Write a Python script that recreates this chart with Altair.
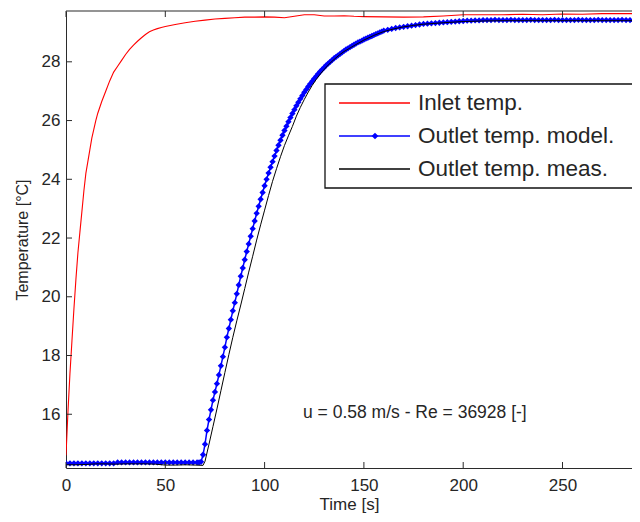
import altair as alt
import pandas as pd

# ---------------- data ----------------
inlet_t = [0,1,2,3,4,5,6,7,8,9,10,11,12,13,14,15,16,18,20,22,24,26,28,30,32,34,36,38,40,42,44,46,48,50,
           55,60,65,70,75,80,85,90,95,100,105,110,115,120,125,130,135,140,145,150,
           160,170,180,190,200,210,220,230,240,250,260,270,280,290]
inlet_T = [14.60,16.10,17.40,18.50,19.60,20.60,21.50,22.20,22.90,23.60,24.20,24.60,25.00,25.40,25.70,26.00,26.25,
           26.65,27.00,27.35,27.65,27.85,28.05,28.25,28.42,28.57,28.70,28.82,28.93,29.02,29.08,29.13,29.17,29.20,
           29.27,29.33,29.38,29.42,29.46,29.48,29.50,29.52,29.52,29.53,29.52,29.50,29.55,29.60,29.60,29.56,29.56,29.57,29.55,29.54,
           29.53,29.52,29.53,29.56,29.60,29.60,29.60,29.62,29.60,29.63,29.62,29.64,29.64,29.64]

model_t = list(range(0, 67, 2)) + list(range(67, 161)) + list(range(162, 289, 2))
model_T = ([14.33] * 13 + [14.36] * 21 +
           [14.36,14.38,14.62,14.98,15.45,15.82,16.15,16.48,16.76,17.04,17.34,17.65,17.96,18.28,18.62,18.92,
            19.22,19.52,19.80,20.10,20.40,20.70,20.98,21.26,21.54,21.80,22.06,22.32,22.58,22.84,23.08,23.32,
            23.55,23.78,24.00,24.21,24.41,24.60,24.79,24.98,25.16,25.33,25.50,25.66,25.81,25.96,26.10,26.24,
            26.37,26.50,26.62,26.74,26.85,26.96,27.06,27.16,27.25,27.34,27.43,27.51,27.59,27.67,27.74,27.81,
            27.88,27.94,28.00,28.06,28.12,28.17,28.22,28.27,28.32,28.37,28.42,28.46,28.50,28.54,28.58,28.62,
            28.66,28.69,28.72,28.76,28.79,28.82,28.85,28.88,28.91,28.94,28.97,29.00,29.03,29.06] +
           [29.09,29.12,29.15,29.17,29.19,29.21,29.23,29.25,29.27,29.29,29.30,29.31,29.32,29.33,29.34,29.35,
            29.36,29.37,29.38,29.39,29.40,29.40,29.41,29.41,29.42] +
           [29.42,29.42,29.43,29.42,29.42,29.42,29.43,29.42,29.42,29.42,29.42,29.43,29.42,29.42,29.42,29.42,
            29.42,29.43,29.42,29.42,29.42,29.42,29.42,29.43,29.42,29.42,29.42,29.42,29.43,29.42,29.42,29.42,
            29.42,29.42,29.43,29.42,29.42,29.42,29.42])

meas_t = [0,5,10,15,20,25,30,35,40,45,50,55,60,65,69,70,
          72,74,76,78,80,82,84,86,88,90,92,94,96,98,100,102,104,106,108,110,112,114,116,118,120,
          122,124,126,128,130,132,134,136,138,140,145,150,155,160,165,170,175,180,190,200,210,220,240,260,290]
meas_T = [14.28,14.28,14.29,14.31,14.31,14.30,14.31,14.31,14.31,14.30,14.27,14.27,14.28,14.27,14.26,14.40,
          14.98,15.58,16.18,16.80,17.42,18.03,18.62,19.18,19.72,20.28,20.84,21.38,21.93,22.45,22.95,23.45,
          23.93,24.36,24.77,25.15,25.48,25.80,26.15,26.45,26.72,26.97,27.20,27.40,27.58,27.74,27.89,28.02,
          28.14,28.25,28.35,28.55,28.74,28.90,29.03,29.12,29.19,29.24,29.28,29.33,29.37,29.39,29.40,29.40,
          29.40,29.40]

assert len(inlet_t) == len(inlet_T)
assert len(model_t) == len(model_T), (len(model_t), len(model_T))
assert len(meas_t) == len(meas_T)

x_ticks = [0, 50, 100, 150, 200, 250]
y_ticks = [16, 18, 20, 22, 24, 26, 28]
legend_labels = ["Inlet temp.", "Outlet temp. model.", "Outlet temp. meas."]
legend_colors = ["#ff0000", "#0000ff", "#000000"]
annotation = "u = 0.58 m/s - Re = 36928 [-]"

W, H = 566, 457
X_DOMAIN = [0, W / 1.986]
Y_DOMAIN = [14.17, 29.73]
FONT = "Liberation Sans"
TXT = "#262626"

inlet = pd.DataFrame({"t": inlet_t, "T": inlet_T})
model = pd.DataFrame({"t": model_t, "T": model_T})
meas = pd.DataFrame({"t": meas_t, "T": meas_T})
xt = pd.DataFrame({"t": x_ticks})
yt = pd.DataFrame({"T": y_ticks})
one = pd.DataFrame({"a": [0]})

xs = alt.Scale(domain=X_DOMAIN, nice=False, zero=False)
ys = alt.Scale(domain=Y_DOMAIN, nice=False, zero=False)

x_enc = alt.X("t:Q", scale=xs, title="Time [s]",
              axis=alt.Axis(values=x_ticks, tickSize=0, labelPadding=9, grid=False, labelFlush=False,
                            domainColor="#2b2b2b", labelFontSize=17, titleFontSize=17,
                            titleFontWeight="normal", titlePadding=3, labelColor=TXT,
                            titleColor=TXT, labelFont=FONT, titleFont=FONT))
y_enc = alt.Y("T:Q", scale=ys, title="Temperature [°C]",
              axis=alt.Axis(values=y_ticks, tickSize=0, labelPadding=6, grid=False,
                            domainColor="#2b2b2b", labelFontSize=17, titleFontSize=16,
                            titleFontWeight="normal", titlePadding=11, labelColor=TXT,
                            titleColor=TXT, labelFont=FONT, titleFont=FONT))

red = alt.Chart(inlet).mark_line(color="#ff0000", strokeWidth=1.1, clip=True).encode(x=x_enc, y=y_enc)
blue_line = alt.Chart(model).mark_line(color="#0000ff", strokeWidth=1.5, clip=True).encode(x="t:Q", y="T:Q")
blue_pts = alt.Chart(model).mark_point(shape="diamond", filled=True, color="#0000ff", size=40,
                                       opacity=1, clip=True).encode(x="t:Q", y="T:Q")
black = alt.Chart(meas).mark_line(color="#000000", strokeWidth=1.0, clip=True).encode(x="t:Q", y="T:Q")

tick_col = "#2b2b2b"
top_line = alt.Chart(one).mark_rule(color=tick_col, strokeWidth=1.2).encode(
    x=alt.value(0), x2=alt.value(W), y=alt.value(0))
tb = alt.Chart(xt).mark_rule(color=tick_col).encode(x="t:Q", y=alt.value(H), y2=alt.value(H - 6))
tt = alt.Chart(xt).mark_rule(color=tick_col).encode(x="t:Q", y=alt.value(0), y2=alt.value(6))
tl = alt.Chart(yt).mark_rule(color=tick_col).encode(y="T:Q", x=alt.value(0), x2=alt.value(6))

note = alt.Chart(one).mark_text(text=annotation, align="left", baseline="middle", fontSize=17.5,
                                font=FONT, color=TXT).encode(x=alt.value(237), y=alt.value(402))

# legend box
lx0, lx1, ly0, ly1 = 259, 567, 73, 177
row_y = [92, 125, 158]
box = alt.Chart(one).mark_rect(fill="white", stroke="#111", strokeWidth=1.3).encode(
    x=alt.value(lx0), x2=alt.value(lx1), y=alt.value(ly0), y2=alt.value(ly1))
leg_layers = [box]
for lab, col, yy in zip(legend_labels, legend_colors, row_y):
    leg_layers.append(alt.Chart(one).mark_rule(color=col, strokeWidth=1.4).encode(
        x=alt.value(273), x2=alt.value(344), y=alt.value(yy)))
    leg_layers.append(alt.Chart(one).mark_text(text=lab, align="left", baseline="middle", fontSize=22.5,
                                               font=FONT, color=TXT).encode(
        x=alt.value(352), y=alt.value(yy)))
leg_layers.append(alt.Chart(one).mark_point(shape="diamond", filled=True, color="#0000ff", size=45,
                                            opacity=1).encode(x=alt.value(309), y=alt.value(row_y[1])))

chart = alt.layer(red, blue_line, blue_pts, black, top_line, tb, tt, tl, note, *leg_layers).properties(
    width=W, height=H,
    padding={"left": 58, "top": 3, "right": 0, "bottom": 46},
    autosize=alt.AutoSizeParams(type="none"),
    background="white",
).configure_view(strokeWidth=0)

chart.save("out.html", embed_options={"renderer": "svg", "actions": False})
